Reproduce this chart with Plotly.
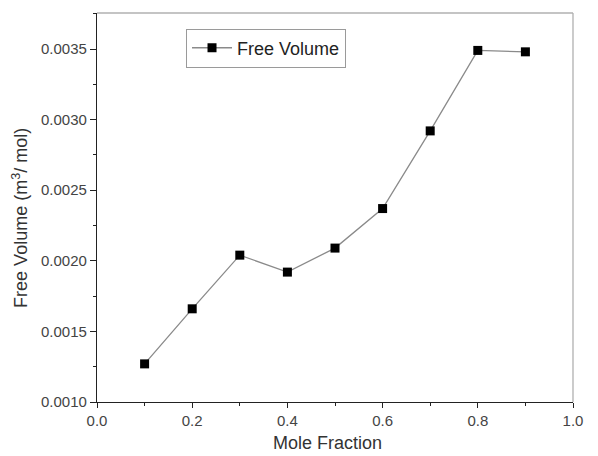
import plotly.graph_objects as go

mole_fraction = [0.1, 0.2, 0.3, 0.4, 0.5, 0.6, 0.7, 0.8, 0.9]
free_volume = [0.00127, 0.00166, 0.00204, 0.00192, 0.00209, 0.00237, 0.00292, 0.00349, 0.00348]
x_ticks = [0.0, 0.2, 0.4, 0.6, 0.8, 1.0]
y_ticks = [0.0010, 0.0015, 0.0020, 0.0025, 0.0030, 0.0035]

fig = go.Figure()
fig.add_trace(go.Scatter(
    x=mole_fraction, y=free_volume, mode="lines+markers", name="Free Volume",
    line=dict(color="#8a8a8a", width=1.3),
    marker=dict(symbol="square", size=9, color="black"),
))

font = "Liberation Sans, Arial, sans-serif"
fig.update_layout(
    width=598, height=456,
    margin=dict(l=97, r=25, t=13, b=54),
    paper_bgcolor="white", plot_bgcolor="white",
    font=dict(family=font, color="#333333"),
    showlegend=True,
    legend=dict(x=0.187, y=0.96, xanchor="left", yanchor="top",
                bordercolor="#9a9a9a", borderwidth=1,
                font=dict(size=18, color="#222222"), bgcolor="white",
                itemwidth=40, tracegroupgap=0),
    xaxis=dict(range=[0, 1.0], tickvals=x_ticks, ticktext=[f"{v:.1f}" for v in x_ticks],
               showgrid=False, zeroline=False, showline=True, linecolor="#222222", linewidth=1.3,
               ticks="outside", ticklen=5, tickcolor="#222222", tickwidth=1.3,
               minor=dict(ticks="outside", ticklen=3, dtick=0.1, tick0=0, tickcolor="#222222"),
               tickfont=dict(size=15, color="#444444"), automargin=False),
    yaxis=dict(range=[0.0010, 0.003755], tickvals=y_ticks, ticktext=[f"{v:.4f}" for v in y_ticks],
               showgrid=False, zeroline=False, showline=True, linecolor="#222222", linewidth=1.3,
               ticks="outside", ticklen=6, tickcolor="#222222", tickwidth=1.3,
               minor=dict(ticks="outside", ticklen=3, dtick=0.00025, tick0=0.001, tickcolor="#222222"),
               tickfont=dict(size=15, color="#444444"), automargin=False),
    annotations=[
        dict(text="Mole Fraction", xref="paper", yref="paper", x=0.485, y=-0.105,
             xanchor="center", yanchor="middle", showarrow=False,
             font=dict(size=18, color="#333333")),
        dict(text="Free Volume (m<sup>3</sup>/ mol)", xref="paper", yref="paper", x=-0.162, y=0.473,
             xanchor="center", yanchor="middle", showarrow=False, textangle=-90,
             font=dict(size=18, color="#333333")),
    ],
    shapes=[
        dict(type="line", xref="paper", yref="paper", x0=0, x1=1, y0=1, y1=1,
             line=dict(color="#b0b0b0", width=1.3)),
        dict(type="line", xref="paper", yref="paper", x0=1, x1=1, y0=0, y1=1,
             line=dict(color="#b0b0b0", width=1.3)),
    ],
)

fig.write_html("out.html")
